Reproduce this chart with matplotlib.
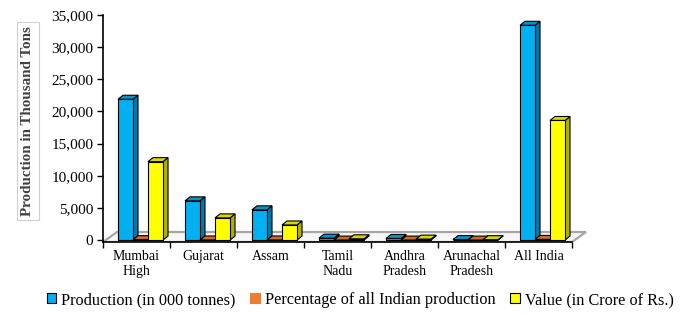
import matplotlib
matplotlib.use("Agg")
import matplotlib.pyplot as plt
from matplotlib.patches import Polygon, Patch

categories = ["Mumbai\nHigh", "Gujarat", "Assam", "Tamil\nNadu", "Andhra\nPradesh", "Arunachal\nPradesh", "All India"]
production = [21900, 6100, 4700, 300, 250, 80, 33400]
percentage = [65.5, 18.3, 14.1, 1.0, 0.8, 0.2, 100]
value = [12200, 3450, 2350, 200, 150, 60, 18600]
series_names = ["Production (in 000 tonnes)", "Percentage of all Indian production", "Value (in Crore of Rs.)"]

face = ["#00B0F0", "#ED7D31", "#FFFF00"]
side = ["#0078A8", "#B85A20", "#B0B000"]
top = ["#0096CC", "#D06A28", "#D8D800"]

plt.rcParams['font.family'] = ['Liberation Serif', 'DejaVu Serif']

fig = plt.figure(figsize=(6.89, 3.15), dpi=100)
ax = fig.add_axes([103/689, 1-242/315, (588.75-103)/689, (242-15)/315])
ax.set_xlim(0, 7.25)
ax.set_ylim(-300, 35000)

px_x = 1/67.0
px_y = 35300/227.0
bw = 15*px_x
ddx, ddy = 5*px_x, 4*px_y

fdx, fdy = 14*px_x, 10*px_y
floor = Polygon([(0, -300), (7, -300), (7+fdx, -300+fdy), (fdx, -300+fdy)], closed=True,
                facecolor="#f7f7f7", edgecolor="#a6a6a6", lw=1.6, zorder=1)
ax.add_patch(floor)

offsets = [0.224, 0.448, 0.672]
series = [production, percentage, value]
z = 2
for i in range(len(categories)):
    for s in range(3):
        v = series[s][i]
        x0 = i + offsets[s]
        ax.bar(x0, v, width=bw, align='edge', color=face[s], edgecolor="black", lw=0.8, zorder=z+0.5)
        sp = Polygon([(x0+bw, 0), (x0+bw+ddx, ddy), (x0+bw+ddx, v+ddy), (x0+bw, v)], closed=True,
                     facecolor=side[s], edgecolor="black", lw=0.8, zorder=z)
        tp = Polygon([(x0, v), (x0+ddx, v+ddy), (x0+bw+ddx, v+ddy), (x0+bw, v)], closed=True,
                     facecolor=top[s], edgecolor="black", lw=0.8, zorder=z)
        ax.add_patch(sp)
        ax.add_patch(tp)
        z += 1

for sp_name in ["top", "right"]:
    ax.spines[sp_name].set_visible(False)
ax.spines["left"].set_bounds(-300, 35000)
ax.spines["bottom"].set_bounds(0, 7)
ax.spines["left"].set_linewidth(1.2)
ax.spines["bottom"].set_linewidth(1.2)
ax.spines["left"].set_zorder(50)
ax.spines["bottom"].set_zorder(50)

ax.set_yticks(range(0, 35001, 5000))
ax.set_yticklabels([f"{t:,}" for t in range(0, 35001, 5000)], fontsize=11)
ax.tick_params(axis='y', direction='out', length=4, width=1, pad=3)

ax.set_xticks(range(0, 8))
ax.set_xticklabels([])
ax.tick_params(axis='x', which='major', direction='out', length=4, width=1)
ax.set_xticks([i + 0.5 for i in range(7)], minor=True)
ax.set_xticklabels(categories, minor=True, fontsize=10, linespacing=1.15)
ax.tick_params(axis='x', which='minor', length=0, pad=6)

fig.text(28/689, 1-121/315, "Production in Thousand Tons", rotation=90, ha='center', va='center',
         fontsize=10.8, fontweight='bold', color="#404040",
         bbox=dict(boxstyle='square,pad=0.3', facecolor='white', edgecolor='#d0d0d0', lw=0.8))

handles = [Patch(facecolor=face[k], edgecolor=('black' if k != 1 else face[k]), lw=0.8) for k in range(3)]
fig.legend(handles, series_names, loc='center', bbox_to_anchor=(360/689, 1-300/315), ncol=3,
           frameon=False, fontsize=11.7, handlelength=0.6, handleheight=0.6, handletextpad=0.3,
           columnspacing=0.9)

fig.savefig("out.png", dpi=100)
